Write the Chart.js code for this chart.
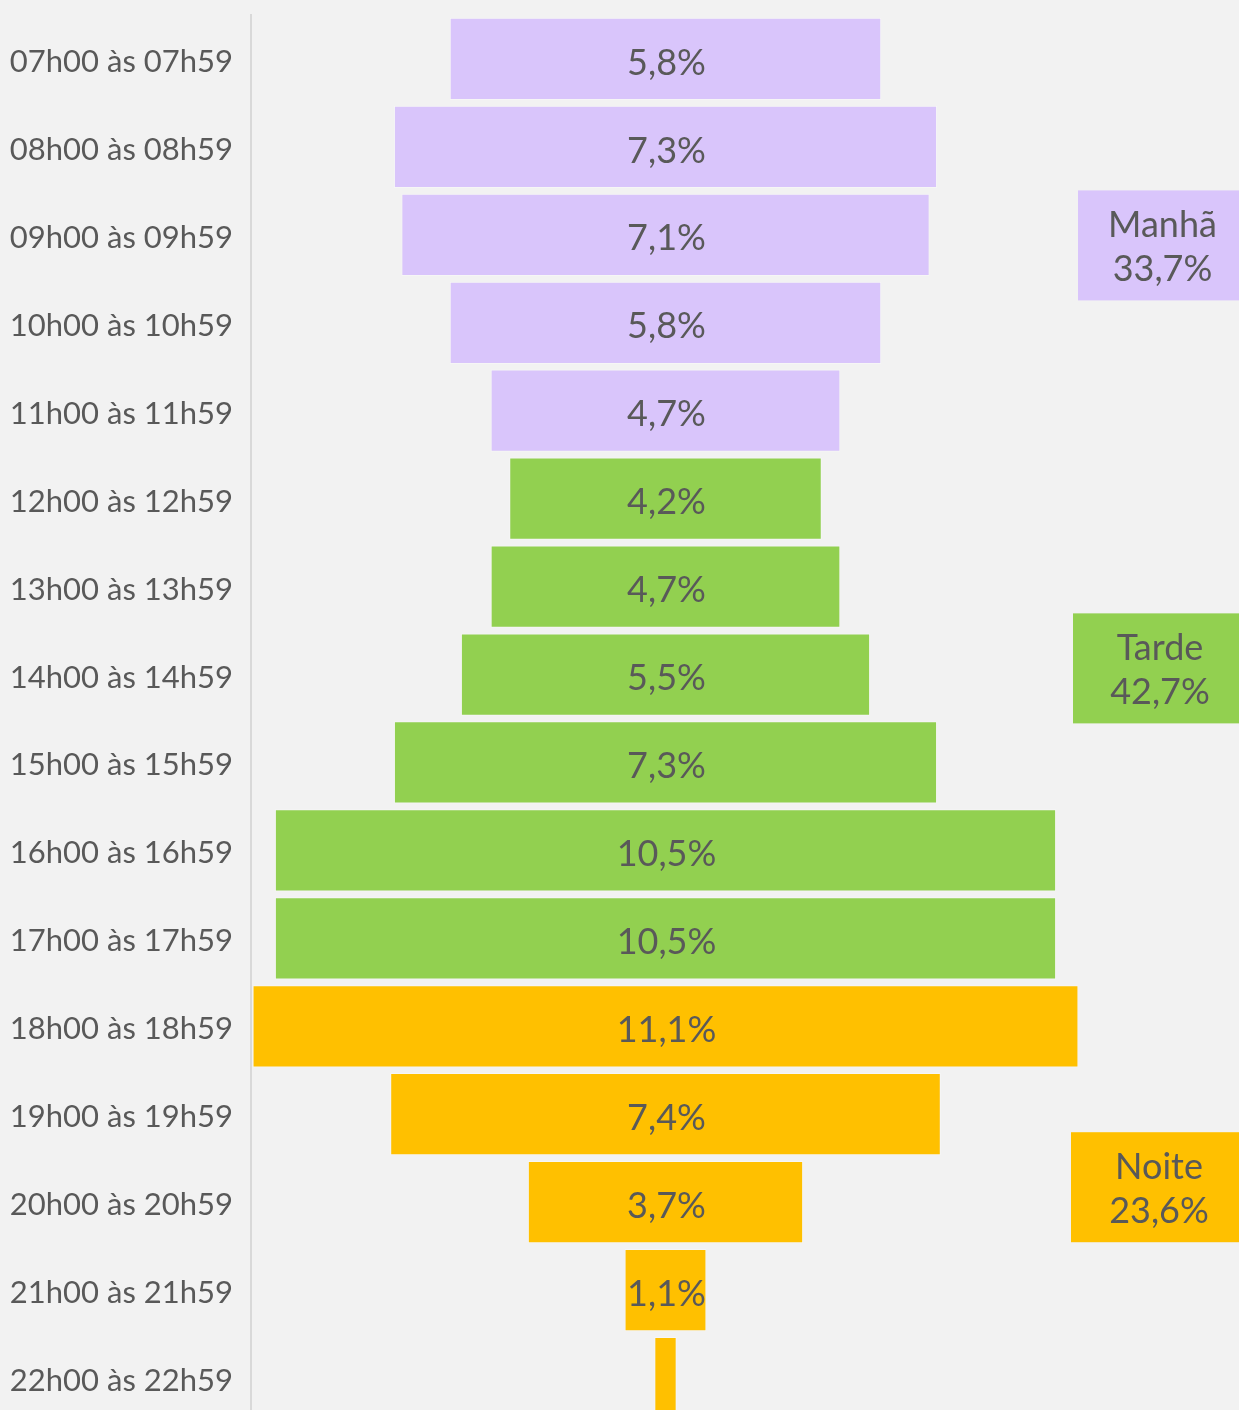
<!DOCTYPE html>
<html>
<head>
<meta charset="utf-8">
<script src="https://cdn.jsdelivr.net/npm/chart.js@4.4.1/dist/chart.umd.min.js"></script>
<style>
    html, body { margin: 0; padding: 0; background: #f2f2f2; overflow: hidden; }
    #wrap { width: 1239px; height: 1422px; }
</style>
</head>
<body>
<div id="wrap"><canvas id="funnel" width="1239" height="1422"></canvas></div>
<script>
// faixas horárias e percentuais
const faixas = ['07h00 às 07h59', '08h00 às 08h59', '09h00 às 09h59', '10h00 às 10h59',
    '11h00 às 11h59', '12h00 às 12h59', '13h00 às 13h59', '14h00 às 14h59',
    '15h00 às 15h59', '16h00 às 16h59', '17h00 às 17h59', '18h00 às 18h59',
    '19h00 às 19h59', '20h00 às 20h59', '21h00 às 21h59', '22h00 às 22h59'];
const percentuais = [5.8, 7.3, 7.1, 5.8, 4.7, 4.2, 4.7, 5.5, 7.3, 10.5, 10.5, 11.1, 7.4, 3.7, 1.1, 0.3];
const turnoDeCada = [0, 0, 0, 0, 0, 1, 1, 1, 1, 1, 1, 2, 2, 2, 2, 2];
const turnos = ['Manhã', 'Tarde', 'Noite'];
const totaisTurno = [33.7, 42.7, 23.6];
const coresTurno = ['#d9c5fb', '#92d050', '#ffc000'];

const TXT = '#595959';
const fmt = v => v.toFixed(1).replace('.', ',') + '%';

// barras flutuantes centradas em zero
const barras = percentuais.map(v => [-v / 2, v / 2]);

const rotulosBarras = {
    id: 'rotulosBarras',
    afterDatasetsDraw(chart) {
        const ctx = chart.ctx;
        const meta = chart.getDatasetMeta(0);
        ctx.save();
        ctx.font = '36px Lato';
        ctx.fillStyle = TXT;
        ctx.textAlign = 'center';
        ctx.textBaseline = 'middle';
        meta.data.forEach((bar, i) => {
            if (percentuais[i] < 1) return;
            ctx.fillText(fmt(percentuais[i]), (bar.x + bar.base) / 2 + 1, bar.y + 4);
        });
        ctx.restore();
    }
};

// caixas com total por turno à direita
const caixasTurno = {
    id: 'caixasTurno',
    afterDraw(chart) {
        const ctx = chart.ctx;
        const y = chart.scales.y;
        const pos = [2.12, 6.93, 12.83];
        const esq = [1078, 1073, 1071];
        ctx.save();
        turnos.forEach((t, i) => {
            const cy = y.getPixelForValue(pos[i]);
            ctx.fillStyle = coresTurno[i];
            ctx.fillRect(esq[i], cy - 55, chart.width - esq[i], 110);
            ctx.fillStyle = TXT;
            ctx.font = '36px Lato';
            ctx.textAlign = 'center';
            ctx.textBaseline = 'middle';
            const cx = (esq[i] + 1247) / 2;
            ctx.fillText(t, cx, cy - 20);
            ctx.fillText(fmt(totaisTurno[i]), cx, cy + 24);
        });
        ctx.restore();
    }
};

new Chart(document.getElementById('funnel'), {
    type: 'bar',
    data: {
        labels: faixas,
        datasets: [{
            data: barras,
            backgroundColor: turnoDeCada.map(t => coresTurno[t]),
            borderColor: 'rgba(255,255,255,0.35)',
            borderWidth: 1,
            borderSkipped: false,
            barPercentage: 0.935,
            categoryPercentage: 1
        }]
    },
    options: {
        indexAxis: 'y',
        responsive: false,
        animation: false,
        layout: { padding: { top: 15, right: 0, bottom: 0, left: 0 } },
        plugins: { legend: { display: false }, tooltip: { enabled: false } },
        scales: {
            x: { display: false, min: -5.571, max: 7.708 },
            y: {
                grid: { display: false, drawTicks: false },
                border: { display: true, color: '#d9d9d9', width: 2 },
                ticks: { color: TXT, font: { family: 'Lato', size: 31 }, padding: 18, labelOffset: 3 },
                afterFit(scale) {
                    scale.width = 251;
                    scale.paddingTop = 0;
                    scale.paddingBottom = 0;
                }
            }
        }
    },
    plugins: [rotulosBarras, caixasTurno]
});
</script>
</body>
</html>
